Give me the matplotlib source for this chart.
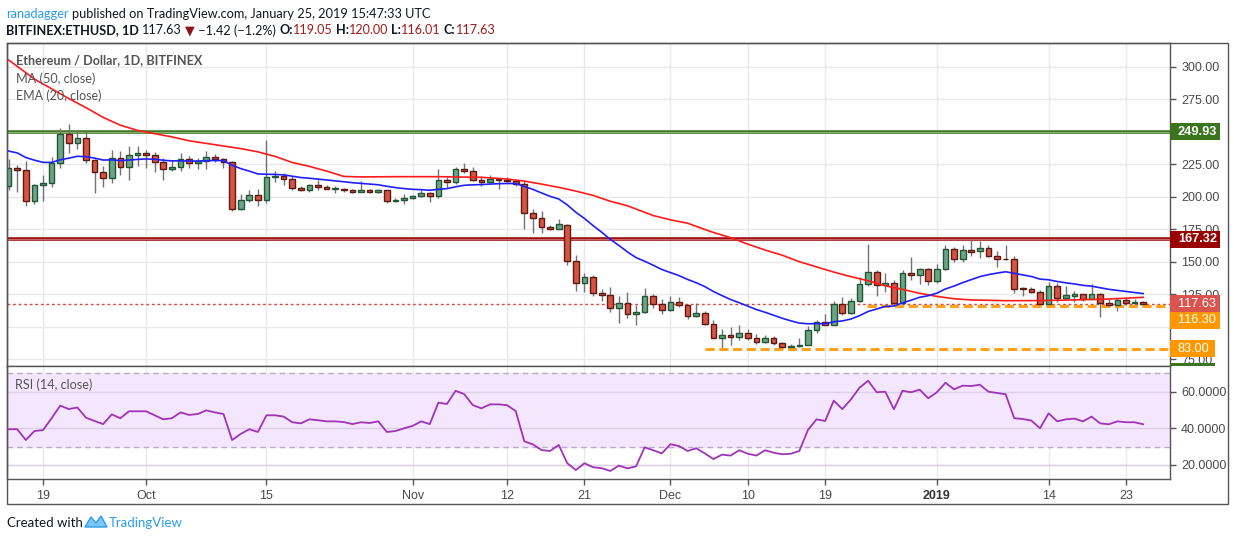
import matplotlib
matplotlib.use('Agg')
import matplotlib.pyplot as plt
import numpy as np
import pandas as pd
from matplotlib.patches import Rectangle, Polygon

W, H = 1234, 541

# ---------------- data ----------------
dates = pd.date_range('2018-09-15', '2019-01-25', freq='D')

opens = [208.4, 221.8, 220.3, 196.4, 208.7, 210.5, 225.7, 248.0, 241.1, 245.0,
         228.0, 219.2, 214.1, 229.5, 222.6, 232.0, 233.7, 232.0, 226.5, 221.0,
         222.6, 228.8, 225.7, 227.2, 230.3, 228.8, 227.0, 190.7, 197.1, 201.0,
         197.1, 214.9, 215.9, 213.4, 206.4, 204.9, 209.0, 207.2, 206.1, 206.1,
         205.3, 203.8, 205.1, 203.8, 204.9, 196.8, 197.6, 198.9, 200.4, 202.8,
         200.4, 212.6, 211.0, 221.3, 219.6, 212.6, 211.0, 213.4, 212.8, 211.8,
         209.7, 187.1, 183.8, 176.8, 175.5, 178.6, 150.5, 133.9, 138.0, 125.8,
         124.6, 114.6, 118.5, 110.0, 111.5, 124.0, 117.7, 113.0, 119.2, 116.9,
         108.4, 110.2, 102.2, 91.5, 93.8, 92.2, 95.3, 91.5, 88.0, 91.5,
         87.6, 84.2, 85.0, 86.3, 97.1, 103.8, 101.5, 117.7, 110.7, 120.0,
         133.0, 142.3, 132.3, 133.9, 118.5, 141.6, 140.0, 144.1, 135.1, 144.7,
         159.6, 152.4, 158.8, 158.4, 160.9, 154.7, 152.4, 152.4, 129.7, 128.7,
         126.9, 117.7, 131.0, 122.3, 124.0, 124.9, 121.5, 125.3, 118.5, 117.0,
         120.2, 118.5, 119.05]
highs = [229.0, 224.6, 227.5, 210.0, 216.7, 230.3, 252.7, 256.0, 251.0, 250.6,
         229.0, 223.6, 236.0, 235.0, 239.0, 239.0, 235.6, 234.6, 230.0, 228.0,
         234.0, 231.0, 230.0, 235.0, 232.6, 230.0, 227.5, 202.0, 205.0, 206.0,
         243.7, 219.4, 218.6, 215.7, 208.0, 210.0, 213.0, 208.8, 208.0, 207.0,
         206.0, 212.0, 206.0, 206.0, 205.5, 199.0, 202.0, 201.0, 205.0, 203.5,
         221.6, 215.0, 222.5, 225.9, 222.5, 215.7, 217.0, 213.8, 214.8, 213.0,
         212.0, 190.2, 189.0, 178.0, 183.0, 179.0, 154.9, 141.6, 140.0, 128.7,
         130.5, 123.3, 126.4, 117.0, 129.4, 125.0, 121.0, 124.0, 122.8, 117.5,
         118.0, 112.0, 105.3, 98.4, 100.0, 101.6, 98.0, 94.6, 94.0, 93.0,
         88.0, 86.4, 91.0, 100.6, 105.3, 110.0, 120.0, 122.8, 122.0, 138.0,
         163.4, 143.3, 141.6, 136.0, 144.0, 153.4, 145.3, 145.0, 148.0, 163.0,
         161.0, 162.6, 167.0, 166.0, 163.0, 157.9, 163.0, 154.3, 130.4, 130.4,
         128.5, 134.4, 133.6, 131.0, 127.6, 125.5, 132.6, 125.8, 121.0, 122.0,
         122.0, 121.0, 120.0]
lows = [205.0, 204.0, 193.0, 194.5, 196.6, 207.6, 222.3, 233.9, 237.0, 226.0,
        203.0, 207.6, 210.7, 217.0, 213.0, 224.0, 222.0, 219.0, 213.0, 220.0,
        220.0, 222.0, 221.0, 221.0, 227.0, 222.0, 189.0, 189.6, 196.0, 193.0,
        195.0, 211.0, 209.0, 204.8, 204.3, 204.0, 205.0, 205.6, 203.0, 204.0,
        203.0, 203.6, 203.0, 203.0, 195.0, 196.0, 194.0, 198.0, 199.5, 196.0,
        199.0, 207.0, 210.0, 218.0, 212.0, 208.5, 210.5, 206.0, 211.0, 208.0,
        175.0, 171.7, 172.0, 174.0, 175.0, 147.2, 127.2, 126.6, 124.0, 120.0,
        111.0, 102.8, 107.0, 101.0, 110.5, 114.6, 110.0, 112.0, 115.0, 106.0,
        107.5, 101.0, 91.0, 83.0, 86.0, 90.0, 90.0, 87.0, 87.5, 86.0,
        83.0, 82.6, 84.5, 86.0, 95.0, 101.0, 101.0, 109.0, 110.0, 119.0,
        131.0, 124.0, 127.0, 117.0, 117.0, 135.6, 133.0, 132.0, 134.0, 144.0,
        149.8, 149.8, 154.6, 153.0, 154.0, 145.6, 151.6, 126.0, 124.0, 125.8,
        117.0, 117.0, 119.0, 121.5, 118.8, 119.5, 121.0, 107.3, 115.6, 112.0,
        117.0, 116.0, 116.01]
closes = [221.8, 220.3, 196.4, 208.7, 210.5, 225.7, 248.0, 241.1, 245.0, 228.0,
          219.2, 214.1, 229.5, 222.6, 232.0, 233.7, 232.0, 226.5, 221.0, 222.6,
          228.8, 225.7, 227.2, 230.3, 228.8, 227.0, 190.7, 197.1, 201.0, 197.1,
          214.9, 215.9, 213.4, 206.4, 204.9, 209.0, 207.2, 206.1, 206.1, 205.0,
          203.8, 205.1, 203.8, 205.1, 196.8, 197.6, 198.9, 200.4, 202.8, 200.4,
          212.8, 211.0, 221.3, 219.6, 212.6, 211.0, 213.4, 212.8, 211.8, 209.7,
          187.1, 183.8, 176.8, 175.5, 178.9, 150.5, 133.9, 138.0, 125.8, 124.6,
          114.6, 118.5, 110.0, 111.5, 124.0, 117.7, 113.0, 119.2, 116.9, 108.4,
          110.2, 102.2, 91.5, 93.8, 92.2, 95.3, 91.1, 88.0, 91.5, 87.3,
          84.2, 85.5, 86.3, 97.1, 103.8, 101.5, 117.7, 110.7, 120.0, 133.0,
          142.3, 132.3, 133.9, 118.5, 141.6, 140.0, 144.1, 135.1, 144.7, 159.6,
          152.4, 158.8, 157.8, 160.9, 154.7, 152.4, 152.0, 129.2, 128.7, 126.9,
          117.7, 131.0, 122.3, 124.0, 124.9, 121.5, 125.3, 118.5, 117.0, 120.2,
          118.5, 119.05, 117.63]

rsi = [39.5, 39.5, 33.6, 38.5, 39.0, 45.5, 52.4, 50.5, 51.4, 45.8,
       44.0, 42.3, 47.6, 45.5, 49.3, 49.3, 49.3, 47.1, 44.9, 45.5,
       48.7, 47.3, 47.8, 49.8, 48.7, 47.8, 33.6, 36.9, 39.5, 38.0,
       47.1, 47.1, 46.4, 43.3, 42.7, 44.9, 44.4, 43.8, 43.8, 43.4,
       42.3, 43.3, 42.9, 43.8, 38.0, 38.5, 40.0, 41.3, 43.8, 42.3,
       54.0, 53.3, 60.5, 58.7, 52.7, 50.9, 53.1, 53.1, 52.6, 49.4,
       32.9, 31.2, 28.1, 27.6, 30.9, 20.9, 17.2, 20.9, 18.7, 18.2,
       16.7, 19.6, 18.1, 19.2, 29.6, 28.0, 26.3, 31.3, 30.3, 27.6,
       29.1, 26.3, 23.2, 25.6, 25.1, 28.0, 26.1, 25.1, 28.0, 26.7,
       25.8, 26.1, 27.6, 39.1, 44.9, 44.0, 55.1, 50.5, 55.8, 62.2,
       66.0, 59.7, 60.0, 50.4, 60.5, 59.7, 61.1, 56.4, 59.7, 64.9,
       61.3, 63.3, 63.1, 63.8, 60.0, 59.3, 58.6, 45.5, 45.1, 44.2,
       40.0, 48.2, 43.8, 44.9, 45.3, 43.8, 46.4, 42.7, 42.2, 43.8,
       43.3, 43.3, 42.2]

ma50_idx = [0, 3, 5, 7, 9, 11, 13, 15, 17, 19, 21, 23, 25, 27, 29, 31, 33, 35, 37, 39,
            41, 45, 50, 55, 58, 60, 62, 64, 66, 68, 70, 72, 75, 77, 79, 81, 82, 84, 86, 88,
            90, 92, 94, 96, 98, 100, 102, 104, 106, 108, 110, 112, 116, 120, 124, 128, 132]
ma50_val = [305.2, 290.5, 283.0, 275.5, 268.5, 261.0, 255.0, 251.0, 248.5, 246.0,
            243.0, 241.0, 239.0, 237.0, 234.5, 231.0, 226.3, 223.3, 219.7, 215.6,
            215.2, 215.4, 215.4, 214.9, 213.6, 212.0, 209.7, 207.2, 204.3, 201.0,
            196.5, 193.0, 185.5, 182.2, 179.6, 174.8, 172.5, 168.5, 163.5, 159.0,
            155.0, 150.0, 146.0, 142.0, 138.5, 135.3, 131.5, 128.7, 125.7, 123.3,
            121.5, 120.6, 120.0, 120.1, 120.6, 121.3, 122.6]
ema_seed = 236.5

tick_dates = ['2018-09-19', '2018-10-01', '2018-10-15', '2018-11-01', '2018-11-12', '2018-11-21',
              '2018-12-01', '2018-12-10', '2018-12-19', '2019-01-01', '2019-01-14', '2019-01-23']
tick_labels = ['19', 'Oct', '15', 'Nov', '12', '21', 'Dec', '10', '19', '2019', '14', '23']

price_ticks = [75, 100, 125, 150, 175, 200, 225, 250, 275, 300]
hidden_price_labels = [100, 250]   # covered by level labels in the reference
rsi_ticks = [20, 40, 60]
resistance = 249.93
support_mid = 167.32
last_price = 117.63
support_low = 116.30
support_bottom = 83.00

# ---------------- derived ----------------
o = np.array(opens); h = np.array(highs); l = np.array(lows); c = np.array(closes)
x = np.arange(len(c))
alpha = 2 / 21
ema = []
prev = ema_seed
for v in c:
    prev = prev + alpha * (v - prev)
    ema.append(prev)
ema = np.array(ema)
tick_pos = [(pd.Timestamp(d) - dates[0]).days for d in tick_dates]

# ---------------- figure ----------------
plt.rcParams['font.family'] = ['Liberation Sans', 'DejaVu Sans']
fig = plt.figure(figsize=(W / 100, H / 100), dpi=100)
fig.patch.set_facecolor('white')

def fx(px): return px / W
def fy(py): return 1 - py / H

main_top, main_bot, rsi_bot = 42.7, 366.0, 479.0
left_px, right_px = 7.0, 1170.0
ax = fig.add_axes([fx(left_px), fy(main_bot), (right_px - left_px) / W, (main_bot - main_top) / H])
axr = fig.add_axes([fx(left_px), fy(rsi_bot), (right_px - left_px) / W, (rsi_bot - main_bot) / H], sharex=ax)

xmin = (left_px - 8.62) / 8.595
xmax = (right_px - 8.62) / 8.595
ax.set_xlim(xmin, xmax)
ax.set_ylim(300 - (main_bot - 66.7) / 1.3, 300 + (66.7 - main_top) / 1.3)
axr.set_ylim(60 - (rsi_bot - 391.7) / 1.83, 60 + (391.7 - main_bot) / 1.83)

grid_c = '#e9e9e9'
frame_c = '#555555'
for a in (ax, axr):
    a.set_facecolor('white')
    for sp in a.spines.values():
        sp.set_color(frame_c)
        sp.set_linewidth(1)
    a.yaxis.tick_right()
    a.tick_params(axis='y', which='both', direction='out', length=4, width=1, color=frame_c,
                  labelcolor='#4a4a4a', labelsize=9, pad=4)
    a.tick_params(axis='x', direction='out', length=4, width=1, color=frame_c,
                  labelcolor='#4a4a4a', labelsize=9, pad=4)
    for tp in tick_pos:
        a.axvline(tp, color=grid_c, lw=1, zorder=0)

ax.set_yticks(price_ticks)
ax.set_yticklabels(['' if v in hidden_price_labels else '%.2f' % v for v in price_ticks])
for pt in price_ticks:
    ax.axhline(pt, color=grid_c, lw=1, zorder=0)
ax.tick_params(axis='x', which='both', bottom=False, labelbottom=False)
axr.set_yticks(rsi_ticks)
axr.set_yticklabels(['%.4f' % v for v in rsi_ticks])
for rt in rsi_ticks:
    axr.axhline(rt, color=grid_c, lw=1, zorder=0)
axr.set_xticks(tick_pos)
axr.set_xticklabels(tick_labels)
for lab in axr.get_xticklabels():
    if lab.get_text() == '2019':
        lab.set_fontweight('bold')
        lab.set_color('#333333')

# candles
up = c >= o
up_body, up_edge = '#6ba583', '#225437'
dn_body, dn_edge = '#d75442', '#5b1a13'
ax.vlines(x, l, h, color='#737375', lw=1, zorder=2)
body_bottom = np.minimum(o, c)
body_h = np.maximum(np.abs(c - o), 0.35)
ax.bar(x[up], body_h[up], bottom=body_bottom[up], width=0.66, color=up_body,
       edgecolor=up_edge, linewidth=1, zorder=3)
ax.bar(x[~up], body_h[~up], bottom=body_bottom[~up], width=0.66, color=dn_body,
       edgecolor=dn_edge, linewidth=1, zorder=3)

# indicator lines
ax.plot(ma50_idx, ma50_val, color='#ff1a1a', lw=1.2, zorder=4)
ax.plot(x, ema, color='#1f1fff', lw=1.2, zorder=4)

# horizontal levels
ax.axhline(resistance, color='#457a2a', lw=2.6, zorder=1)
ax.axhline(resistance, color='#8fb97a', lw=0.6, zorder=1)
ax.axhline(support_mid, color='#9e1010', lw=2.6, zorder=1)
ax.axhline(support_mid, color='#d77a7a', lw=0.6, zorder=1)
ax.axhline(last_price, color='#e0483a', lw=1, ls=(0, (2, 2)), zorder=1)
ax.plot([99.9, xmax], [support_low, support_low], color='#ffa31a', lw=2.2, ls=(0, (3, 1.5)), zorder=2)
ax.plot([81.0, xmax], [support_bottom, support_bottom], color='#ffa31a', lw=2.2, ls=(0, (3, 1.5)), zorder=2)

# RSI
axr.axhspan(30, 70, color='#f4e6fd', zorder=0)
for rt in rsi_ticks:
    axr.axhline(rt, color='#dcd0e6', lw=1, zorder=0.5)
axr.axhline(70, color='#b9abc6', lw=1, ls=(0, (4, 3)), zorder=1)
axr.axhline(30, color='#b9abc6', lw=1, ls=(0, (4, 3)), zorder=1)
axr.plot(x, rsi, color='#a033b8', lw=1.3, zorder=3)

# ---------------- texts ----------------
fig.canvas.draw()
r = fig.canvas.get_renderer()

def measure(s, size, wt, fam):
    t = fig.text(0, 0, s, fontsize=size, fontweight=wt, family=fam)
    w = t.get_window_extent(renderer=r).width
    t.remove()
    return w

def seq_text(x0, y, parts, size, fam, target_w=None):
    def total(sz):
        sp = measure('a a', sz, 'normal', fam) - measure('aa', sz, 'normal', fam)
        tw = 0
        for s, col, wt, gap in parts:
            tw += measure(s, sz, wt, fam) + (sp if gap else 0)
        return tw
    if target_w:
        size = size * target_w / total(size)
    sp = measure('a a', size, 'normal', fam) - measure('aa', size, 'normal', fam)
    xx = x0
    for s, col, wt, gap in parts:
        fig.text(fx(xx), fy(y), s, color=col, fontsize=size, fontweight=wt, family=fam,
                 ha='left', va='center')
        xx += measure(s, size, wt, fam) + (sp if gap else 0)

hdr_font = ['Lato', 'DejaVu Sans']
dark = '#131722'
redv = '#a31a1a'
seq_text(6, 13.5, [('ranadagger', '#2a9bf0', 'normal', True),
                   ('published on TradingView.com, January 25, 2019 15:47:33 UTC', dark, 'normal', False)],
         11, hdr_font, target_w=424)
seq_text(6, 30.5, [('BITFINEX:ETHUSD, 1D', dark, 'bold', True),
                   ('117.63', dark, 'normal', True),
                   ('\u25bc', '#8e1414', 'normal', False),
                   (' \u22121.42 (\u22121.2%)', dark, 'normal', True),
                   ('O:', dark, 'bold', False), ('119.05', redv, 'normal', True),
                   ('H:', dark, 'bold', False), ('120.00', redv, 'normal', True),
                   ('L:', dark, 'bold', False), ('116.01', redv, 'normal', True),
                   ('C:', dark, 'bold', False), ('117.63', redv, 'normal', False)],
         11, hdr_font, target_w=490)

seq_text(16, 60.5, [('Ethereum / Dollar, 1D, BITFINEX', '#555555', 'bold', False)], 10, hdr_font, target_w=186)
seq_text(16, 78.5, [('MA (50, close)', '#555555', 'normal', False)], 10, hdr_font, target_w=79)
seq_text(16, 95.5, [('EMA (20, close)', '#555555', 'normal', False)], 10, hdr_font, target_w=86)
seq_text(15, 385, [('RSI (14, close)', '#555555', 'normal', False)], 10, hdr_font, target_w=77)

# right-axis label boxes
def price_py(p):
    return H - ax.transData.transform((0, p))[1]

def label_box(yc, text, bg, x1=1220, bold=False):
    hgt = 16.7
    fig.add_artist(Rectangle((fx(1170), fy(yc + hgt / 2)), (x1 - 1170) / W, hgt / H,
                             transform=fig.transFigure, facecolor=bg, edgecolor='none', zorder=5))
    fig.text(fx(1178), fy(yc), text, color='white', fontsize=9.2,
             fontweight='bold' if bold else 'normal', ha='left', va='center', zorder=6)

label_box(price_py(resistance), '249.93', '#3b7520', bold=True)
label_box(price_py(support_mid), '167.32', '#990000', bold=True)
y_last = price_py(last_price)
label_box(y_last, '117.63', '#d9534f')
label_box(y_last + 16.7, '116.30', '#ff9800')
label_box(price_py(support_bottom), '83.00', '#ff9800', x1=1215)
fig.add_artist(Rectangle((fx(1170), fy(366)), 45 / W, 3.3 / H, transform=fig.transFigure,
                         facecolor='#3b7520', edgecolor='none', zorder=5))

# outer frame
fig.add_artist(Rectangle((fx(7), fy(504)), (1228 - 7) / W, (504 - 42.7) / H, transform=fig.transFigure,
                         fill=False, edgecolor=frame_c, lw=1, zorder=7))

# footer
fig.text(fx(7), fy(523), 'Created with', color=dark, fontsize=9.5, family=hdr_font, ha='left', va='center')
logo = Polygon([(fx(85), fy(527)), (fx(91), fy(517)), (fx(96), fy(523)), (fx(101), fy(516)),
                (fx(107), fy(527))], closed=True, transform=fig.transFigure,
               facecolor='#7cc8f0', edgecolor='#2a9bf0', lw=1)
fig.add_artist(logo)
fig.text(fx(109), fy(523), 'TradingView', color='#2a9bf0', fontsize=9.5, family=hdr_font,
         ha='left', va='center')

fig.savefig('out.png', dpi=100, facecolor='white')
